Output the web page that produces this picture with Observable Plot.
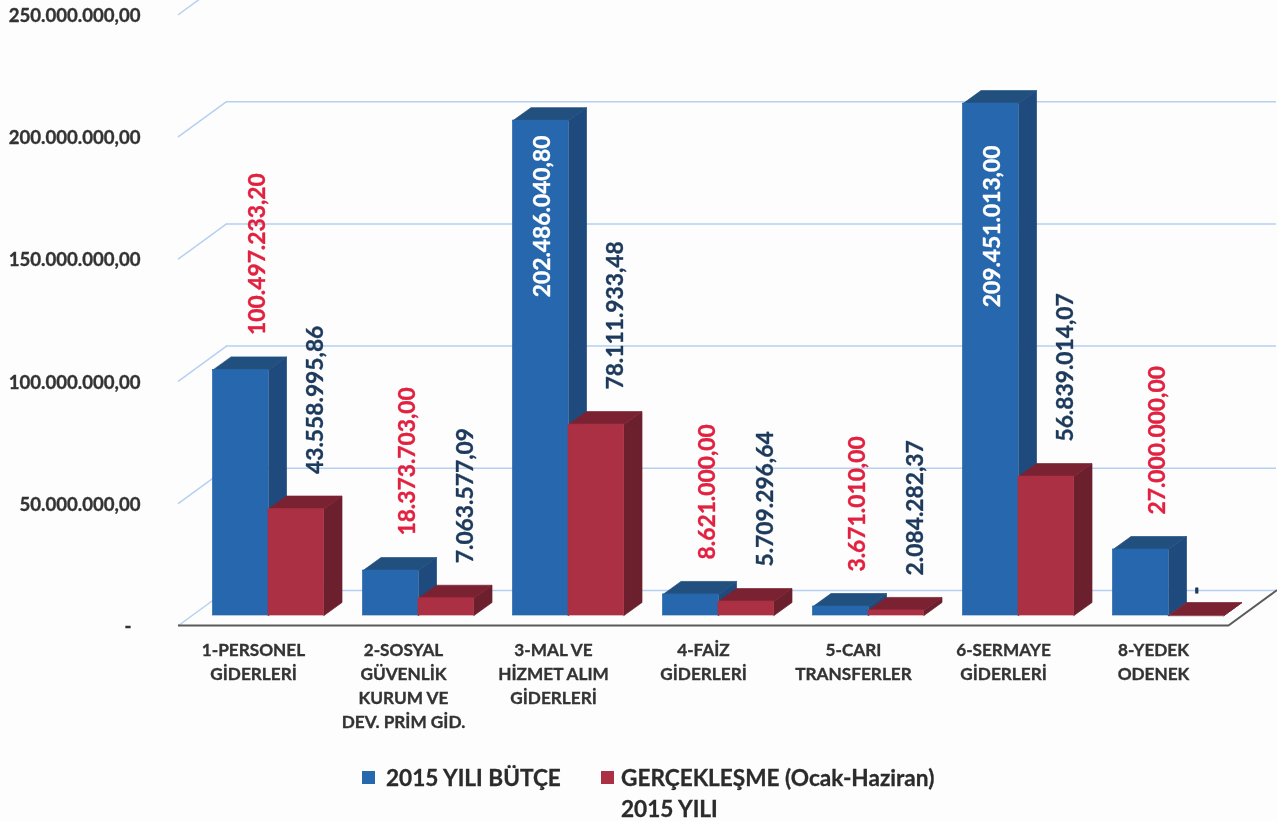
<!DOCTYPE html>
<html lang="tr">
<head>
<meta charset="utf-8">
<script src="https://cdn.jsdelivr.net/npm/d3@7"></script>
<script src="https://cdn.jsdelivr.net/npm/@observablehq/plot@0.6"></script>
<style>
  html, body { margin: 0; padding: 0; width: 1277px; height: 821px; overflow: hidden; background: #fdfdfd; }
  body { font-family: Lato, sans-serif; }
  #chart svg { display: block; filter: blur(0.45px); }
  #chart g[aria-label$="tick label"] { stroke: #333333; stroke-width: 0.35px; }
  #legend { position: absolute; left: 362px; top: 762px; display: flex; font-size: 22.6px; font-weight: 700; line-height: 31px; color: #2b2b2b; filter: blur(0.4px); -webkit-text-stroke: 0.3px #2b2b2b; }
  .item { display: flex; align-items: flex-start; }
  .item i { display: block; width: 13px; height: 13px; margin: 9px 11px 0 0; flex: none; }
  .item + .item i { margin-right: 7px; }
  .item:first-child { width: 239px; }
</style>
</head>
<body>
<div id="chart"></div>
<div id="legend"></div>
<script>
const categories = [
  "1-PERSONEL\nGİDERLERİ",
  "2-SOSYAL\nGÜVENLİK\nKURUM VE\nDEV. PRİM GİD.",
  "3-MAL VE\nHİZMET ALIM\nGİDERLERİ",
  "4-FAİZ\nGİDERLERİ",
  "5-CARI\nTRANSFERLER",
  "6-SERMAYE\nGİDERLERİ",
  "8-YEDEK\nODENEK"
];
const budget = [100497233.20, 18373703.00, 202486040.80, 8621000.00, 3671010.00, 209451013.00, 27000000.00];
const actual = [43558995.86, 7063577.09, 78111933.48, 5709296.64, 2084282.37, 56839014.07, 0];
const yTicks = [0, 50000000, 100000000, 150000000, 200000000, 250000000];
const seriesNames = ["2015 YILI BÜTÇE", "GERÇEKLEŞME (Ocak-Haziran)\n2015 YILI"];

const palette = {
  blue: {front: "#2767ad", side: "#1e4a7e", top: "#21507f"},
  red: {front: "#ab3043", side: "#6c1f2d", top: "#7a2232"}
};

const locale = d3.formatLocale({decimal: ",", thousands: ".", grouping: [3], currency: ["", ""]});
const fmt = locale.format(",.2f");
const axisFmt = d => d === 0 ? "-\u00a0\u00a0" : fmt(d);

// Projection of the pseudo-3D view
const pxPerCat = 150, pxPerUnit = 611.5 / 250000000;
const depthX = 18 / pxPerCat, depthY = 13 / pxPerUnit;   // bar depth in data units
const planeDx = 15, planeDy = -10;                        // bars sit this far behind the axis plane
const wallDx = 48, wallDy = -35;                          // back wall offset
const inset = 0.13;

const bars = (values, series) => values.map((v, i) => ({
  i, v, series,
  x1: series === "blue" ? i + inset : i + 0.5,
  x2: series === "blue" ? i + 0.5 : i + 1 - inset
}));
const blueBars = bars(budget, "blue");
const redBars = bars(actual, "red");

const faces = rows => rows.flatMap(b => [
  ...[[b.x2, 0], [b.x2 + depthX, depthY], [b.x2 + depthX, b.v + depthY], [b.x2, b.v]]
    .map(([x, y]) => ({x, y, id: `s${b.i}`, kind: "side"})),
  ...[[b.x1, b.v], [b.x1 + depthX, b.v + depthY], [b.x2 + depthX, b.v + depthY], [b.x2, b.v]]
    .map(([x, y]) => ({x, y, id: `t${b.i}`, kind: "top"}))
]);
const faceMark = (rows, colors, kind) => Plot.line(
  faces(rows).filter(d => d.kind === kind),
  {x: "x", y: "y", z: "id", fill: colors[kind], stroke: colors[kind], strokeWidth: 0.7, curve: "linear-closed", dx: planeDx, dy: planeDy}
);
const frontMark = (rows, colors) => Plot.rect(rows, {
  x1: "x1", x2: "x2", y1: () => 0, y2: "v", fill: colors.front, stroke: colors.front, strokeWidth: 0.7, dx: planeDx, dy: planeDy
});
const mid = b => (b.x1 + b.x2) / 2;

const slantLen = Math.hypot(wallDx, wallDy);
const slantAngle = Math.atan2(wallDx, -wallDy) * 180 / Math.PI;
const segment = {draw(ctx, l) { ctx.moveTo(0, 0); ctx.lineTo(0, -l); }};

const outerRed = "#e1213f", outerNavy = "#1d3a5c";
const insideLimit = 200000000;
const labelBase = {x: mid, y: "v", text: d => fmt(d.v), rotate: -90, lineAnchor: "middle",
  fontSize: 22.8, fontWeight: 700, strokeWidth: 0.35};
const insideLabels = blueBars.filter(d => d.v >= insideLimit);

const plot = Plot.plot({
  width: 1277,
  height: 760,
  marginTop: 14,
  marginBottom: 135,
  marginLeft: 178,
  marginRight: 49,
  style: {fontFamily: "Lato, sans-serif", background: "transparent"},
  x: {type: "linear", domain: [0, 7]},
  y: {domain: [0, 250000000]},
  marks: [
    // back wall and left wall grid
    Plot.ruleY(yTicks, {stroke: "#b5d0f0", strokeWidth: 1.5, dx: wallDx, dy: wallDy}),
    Plot.vector(yTicks, {x: () => 0, y: d => d, length: slantLen, rotate: slantAngle, anchor: "start",
      shape: segment, stroke: "#b5d0f0", strokeWidth: 1.5}),
    // floor edge
    Plot.ruleY([0], {stroke: "#5a5a5a", strokeWidth: 2}),
    Plot.vector([0], {x: () => 7, y: d => d, length: slantLen, rotate: slantAngle, anchor: "start",
      shape: segment, stroke: "#5a5a5a", strokeWidth: 2}),
    // bars
    faceMark(blueBars, palette.blue, "side"),
    faceMark(blueBars, palette.blue, "top"),
    frontMark(blueBars, palette.blue),
    faceMark(redBars, palette.red, "side"),
    faceMark(redBars, palette.red, "top"),
    frontMark(redBars, palette.red),
    // value labels
    Plot.text(blueBars.filter(d => d.v < insideLimit), {...labelBase, fill: outerRed, stroke: outerRed, textAnchor: "start",
      dx: planeDx + 17, dy: planeDy - 35}),
    Plot.text(insideLabels.slice(0, 1), {...labelBase, fill: "#ffffff", stroke: "#ffffff", textAnchor: "end",
      dx: planeDx + 2, dy: planeDy + 15}),
    Plot.text(insideLabels.slice(1), {...labelBase, fill: "#ffffff", stroke: "#ffffff", textAnchor: "end",
      dx: planeDx + 2, dy: planeDy + 42}),
    Plot.text(redBars.filter(d => d.v > 0), {...labelBase, fill: outerNavy, stroke: outerNavy, textAnchor: "start",
      dx: planeDx + 19, dy: planeDy - 35}),
    Plot.text(redBars.filter(d => d.v === 0), {x: mid, y: "v", text: () => "-", rotate: -90,
      lineAnchor: "middle", textAnchor: "middle", fontSize: 20, fontWeight: 900, fill: outerNavy, stroke: outerNavy, strokeWidth: 0.8,
      dx: planeDx, dy: planeDy - 25}),
    // axes
    Plot.axisY({ticks: yTicks, tickFormat: axisFmt, tickSize: 0, tickPadding: 38, label: null, dy: 1.5,
      fontSize: 18.6, fontWeight: 700, fill: "#333333"}),
    Plot.axisX({ticks: categories.map((d, i) => i + 0.5), tickFormat: (d) => categories[Math.floor(d)],
      tickSize: 0, tickPadding: 13, label: null, lineHeight: 1.4, fontSize: 17.2, fontWeight: 700, fill: "#333333"})
  ]
});
document.getElementById("chart").append(plot);

const legend = document.getElementById("legend");
[palette.blue.front, palette.red.front].forEach((color, k) => {
  const item = document.createElement("div");
  item.className = "item";
  const sw = document.createElement("i");
  sw.style.background = color;
  const label = document.createElement("span");
  label.style.whiteSpace = "pre";
  label.textContent = seriesNames[k];
  item.append(sw, label);
  legend.append(item);
});
</script>
</body>
</html>
